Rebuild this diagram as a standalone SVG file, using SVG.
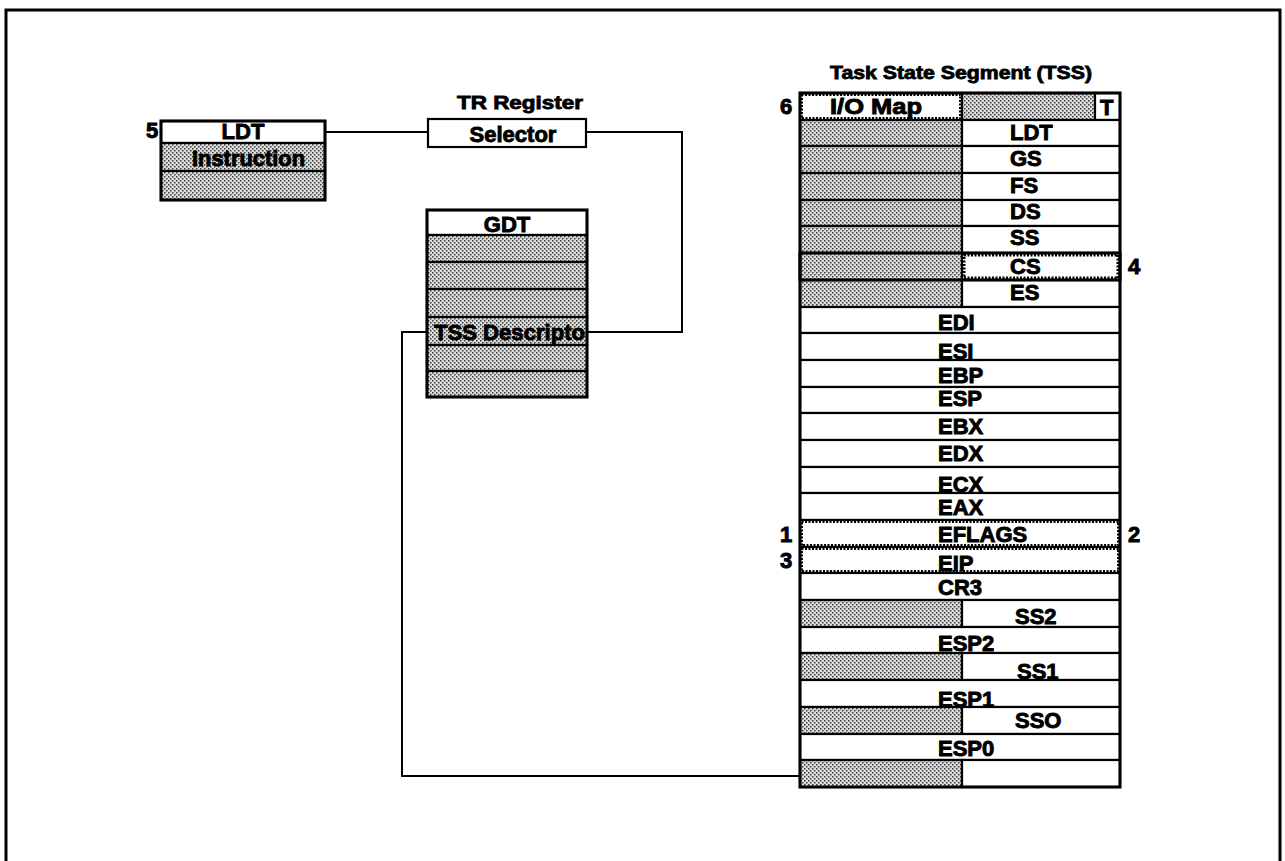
<svg xmlns="http://www.w3.org/2000/svg" width="1285" height="861" viewBox="0 0 1285 861">
<defs>
<pattern id="dither" patternUnits="userSpaceOnUse" width="4" height="4">
<rect width="4" height="4" fill="#dcdcdc"/>
<rect width="1.5" height="1.5" fill="#3a3a3a"/>
<rect x="2" y="2" width="1.5" height="1.5" fill="#3a3a3a"/>
</pattern>
</defs>
<style>
.w{fill:#fff;stroke:#000;stroke-width:2.2}
.s{fill:url(#dither);stroke:#000;stroke-width:2.2}
.ln{fill:none;stroke:#000;stroke-width:2}
.ob{fill:none;stroke:#000;stroke-width:3}
.dot{fill:none;stroke:#000;stroke-width:3;stroke-dasharray:2 1.5}
.t{font-family:"Liberation Sans",Arial,sans-serif;font-weight:bold;font-size:22px;fill:#000;stroke:#000;stroke-width:0.9}
.c{text-anchor:middle}
.ttl{font-size:18px;stroke-width:0.8}
</style>
<rect width="1285" height="861" fill="#fff"/>
<g id="frame"><rect x="6" y="10" width="1274" height="870" class="ob"/></g>

<g id="connectors">
<polyline class="ln" points="325,132 428,132"/>
<polyline class="ln" points="586,132 682,132 682,332 587,332"/>
<polyline class="ln" points="427,332 402,332 402,776 800,776"/>
</g>

<g id="ldt-box">
<rect x="161" y="121" width="164" height="22" class="w"/>
<rect x="161" y="143" width="164" height="28" class="s"/>
<rect x="161" y="171" width="164" height="29" class="s"/>
<rect x="161" y="121" width="164" height="79" class="ob"/>
<text class="t c" x="243" y="139">LDT</text>
<text class="t" x="192" y="166" textLength="113" lengthAdjust="spacingAndGlyphs">Instruction</text>
<text class="t" x="146" y="138">5</text>
</g>

<g id="tr-register">
<text class="t ttl" x="457" y="109" textLength="126" lengthAdjust="spacingAndGlyphs">TR Register</text>
<rect x="428" y="119" width="158" height="28" class="w"/>
<text class="t c" x="513" y="142">Selector</text>
</g>

<g id="gdt">
<rect x="427" y="210" width="160" height="25" class="w"/>
<rect x="427" y="235" width="160" height="27" class="s"/>
<rect x="427" y="262" width="160" height="27" class="s"/>
<rect x="427" y="289" width="160" height="28" class="s"/>
<rect x="427" y="317" width="160" height="28" class="s"/>
<rect x="427" y="345" width="160" height="26" class="s"/>
<rect x="427" y="371" width="160" height="26" class="s"/>
<rect x="427" y="210" width="160" height="187" class="ob"/>
<text class="t c" x="507" y="232">GDT</text>
<text class="t" x="434" y="340" textLength="151" lengthAdjust="spacingAndGlyphs">TSS Descripto</text>
</g>

<g id="tss">
<text class="t ttl" x="830" y="79" textLength="262" lengthAdjust="spacingAndGlyphs">Task State Segment (TSS)</text>
<!-- I/O row -->
<rect x="800" y="93" width="162" height="27" class="w"/>
<rect x="962" y="93" width="133" height="27" class="s"/>
<rect x="1095" y="93" width="25" height="27" class="w"/>
<rect x="801.5" y="94.5" width="159" height="24" class="dot"/>
<!-- split rows -->
<rect x="800" y="120" width="162" height="26" class="s"/><rect x="962" y="120" width="158" height="26" class="w"/>
<rect x="800" y="146" width="162" height="27" class="s"/><rect x="962" y="146" width="158" height="27" class="w"/>
<rect x="800" y="173" width="162" height="27" class="s"/><rect x="962" y="173" width="158" height="27" class="w"/>
<rect x="800" y="200" width="162" height="26" class="s"/><rect x="962" y="200" width="158" height="26" class="w"/>
<rect x="800" y="226" width="162" height="27" class="s"/><rect x="962" y="226" width="158" height="27" class="w"/>
<rect x="800" y="253" width="162" height="27" class="s"/><rect x="962" y="253" width="158" height="27" class="w"/>
<rect x="800" y="280" width="162" height="27" class="s"/><rect x="962" y="280" width="158" height="27" class="w"/>
<!-- full rows -->
<rect x="800" y="307" width="320" height="26" class="w"/>
<rect x="800" y="333" width="320" height="27" class="w"/>
<rect x="800" y="360" width="320" height="27" class="w"/>
<rect x="800" y="387" width="320" height="26" class="w"/>
<rect x="800" y="413" width="320" height="27" class="w"/>
<rect x="800" y="440" width="320" height="27" class="w"/>
<rect x="800" y="467" width="320" height="26" class="w"/>
<rect x="800" y="493" width="320" height="27" class="w"/>
<rect x="800" y="520" width="320" height="27" class="w"/>
<rect x="800" y="547" width="320" height="26" class="w"/>
<rect x="800" y="573" width="320" height="27" class="w"/>
<rect x="800" y="600" width="162" height="27" class="s"/><rect x="962" y="600" width="158" height="27" class="w"/>
<rect x="800" y="627" width="320" height="26" class="w"/>
<rect x="800" y="653" width="162" height="27" class="s"/><rect x="962" y="653" width="158" height="27" class="w"/>
<rect x="800" y="680" width="320" height="27" class="w"/>
<rect x="800" y="707" width="162" height="27" class="s"/><rect x="962" y="707" width="158" height="27" class="w"/>
<rect x="800" y="734" width="320" height="26" class="w"/>
<rect x="800" y="760" width="162" height="27" class="s"/><rect x="962" y="760" width="158" height="27" class="w"/>
<!-- highlighted cells -->
<rect x="800" y="253" width="320" height="27" class="ob"/>
<rect x="964" y="255" width="154" height="23" class="dot"/>
<rect x="801.5" y="521.5" width="317" height="24" class="dot"/>
<rect x="801.5" y="548.5" width="317" height="23" class="dot"/>
<rect x="800" y="93" width="320" height="694" class="ob"/>
<!-- labels -->
<text class="t" x="830" y="114" textLength="92" lengthAdjust="spacingAndGlyphs">I/O Map</text>
<text class="t" x="1100" y="115">T</text>
<text class="t" x="1010" y="140">LDT</text>
<text class="t" x="1010" y="166">GS</text>
<text class="t" x="1010" y="193">FS</text>
<text class="t" x="1010" y="219">DS</text>
<text class="t" x="1010" y="245">SS</text>
<text class="t" x="1010" y="274">CS</text>
<text class="t" x="1010" y="300">ES</text>
<text class="t" x="938" y="330">EDI</text>
<text class="t" x="938" y="359">ESI</text>
<text class="t" x="938" y="383">EBP</text>
<text class="t" x="938" y="406">ESP</text>
<text class="t" x="938" y="434">EBX</text>
<text class="t" x="938" y="461">EDX</text>
<text class="t" x="938" y="492">ECX</text>
<text class="t" x="938" y="515">EAX</text>
<text class="t" x="938" y="542">EFLAGS</text>
<text class="t" x="938" y="571">EIP</text>
<text class="t" x="938" y="595">CR3</text>
<text class="t" x="1015" y="624">SS2</text>
<text class="t" x="938" y="651">ESP2</text>
<text class="t" x="1017" y="679">SS1</text>
<text class="t" x="938" y="707">ESP1</text>
<text class="t" x="1015" y="728">SSO</text>
<text class="t" x="938" y="756">ESP0</text>
</g>

<g id="callouts">
<text class="t" x="780" y="114">6</text>
<text class="t" x="1128" y="274">4</text>
<text class="t" x="780" y="542">1</text>
<text class="t" x="1128" y="542">2</text>
<text class="t" x="780" y="568">3</text>
</g>
</svg>
